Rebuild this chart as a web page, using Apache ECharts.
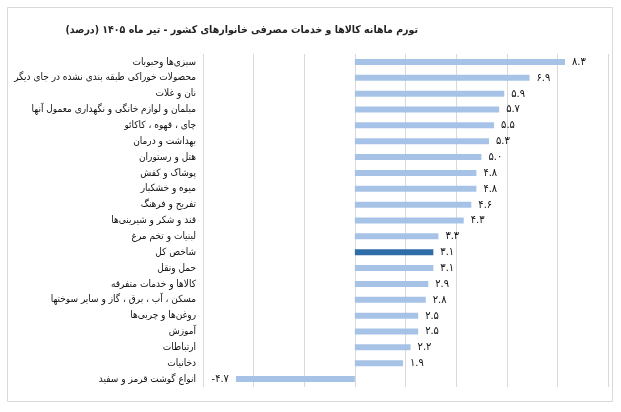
<!DOCTYPE html>
<html>
<head>
<meta charset="utf-8">
<script src="https://cdn.jsdelivr.net/npm/echarts@6/dist/echarts.min.js"></script>
<style>
html,body{margin:0;padding:0;background:#fff;}
#chart{width:621px;height:412px;}
</style>
</head>
<body>
<div id="chart"></div>
<script>
const titleText = 'تورم ماهانه کالاها و خدمات مصرفی خانوارهای کشور - تیر ماه ۱۴۰۵ (درصد)';
const categories = [
  'سبزی‌ها وحبوبات',
  'محصولات خوراکی طبقه بندی نشده در جای دیگر',
  'نان و غلات',
  'مبلمان و لوازم خانگی و نگهداری معمول آنها',
  'چای ، قهوه ، کاکائو',
  'بهداشت و درمان',
  'هتل و رستوران',
  'پوشاک و کفش',
  'میوه و خشکبار',
  'تفریح و فرهنگ',
  'قند و شکر و شیرینی‌ها',
  'لبنیات و تخم مرغ',
  'شاخص کل',
  'حمل ونقل',
  'کالاها و خدمات متفرقه',
  'مسکن ، آب ، برق ، گاز و سایر سوختها',
  'روغن‌ها و چربی‌ها',
  'آموزش',
  'ارتباطات',
  'دخانیات',
  'انواع گوشت قرمز و سفید'
];
const values = [8.3, 6.9, 5.9, 5.7, 5.5, 5.3, 5.0, 4.8, 4.8, 4.6, 4.3, 3.3, 3.1, 3.1, 2.9, 2.8, 2.5, 2.5, 2.2, 1.9, -4.7];
const highlightCategory = 'شاخص کل';

const faDigits = '۰۱۲۳۴۵۶۷۸۹';
function toFa(v) {
  return v.toFixed(1).replace(/[0-9]/g, d => faDigits[+d]);
}

const barColor = '#A6C3E7';
const highlightColor = '#2E6DA8';
const fontStack = "'DejaVu Sans Condensed', 'DejaVu Sans'";

const seriesData = values.map((v, i) => {
  const item = { value: v };
  if (categories[i] === highlightCategory) item.itemStyle = { color: highlightColor };
  if (v < 0) item.label = { position: 'left' };
  return item;
});

const chart = echarts.init(document.getElementById('chart'));
chart.setOption({
  animation: false,
  backgroundColor: '#fff',
  graphic: [{
    type: 'rect',
    shape: { x: 7.5, y: 7.5, width: 605, height: 394 },
    style: { fill: 'none', stroke: '#d9d9d9', lineWidth: 1 },
    silent: true
  }],
  title: {
    text: titleText,
    right: 198,
    top: 20,
    textStyle: { fontFamily: fontStack, fontSize: 10.5, fontWeight: 'bold', color: '#222' }
  },
  grid: { left: 203, right: 13, top: 54, height: 333, containLabel: false, outerBoundsMode: 'none' },
  xAxis: {
    type: 'value',
    min: -6,
    max: 10,
    interval: 2,
    axisLabel: { show: false },
    axisLine: { show: false },
    axisTick: { show: false },
    splitLine: { show: true, lineStyle: { color: '#d9d9d9', width: 1 } }
  },
  yAxis: {
    type: 'category',
    data: categories,
    inverse: true,
    axisLine: { show: false, onZero: false },
    axisTick: { show: false },
    axisLabel: {
      margin: 7,
      fontFamily: fontStack,
      fontSize: 10,
      color: '#111'
    }
  },
  series: [{
    type: 'bar',
    data: seriesData,
    barWidth: 6,
    itemStyle: { color: barColor },
    label: {
      show: true,
      position: 'right',
      distance: 7,
      fontFamily: fontStack,
      fontSize: 11,
      color: '#111',
      formatter: p => toFa(p.value)
    }
  }]
});
</script>
</body>
</html>
